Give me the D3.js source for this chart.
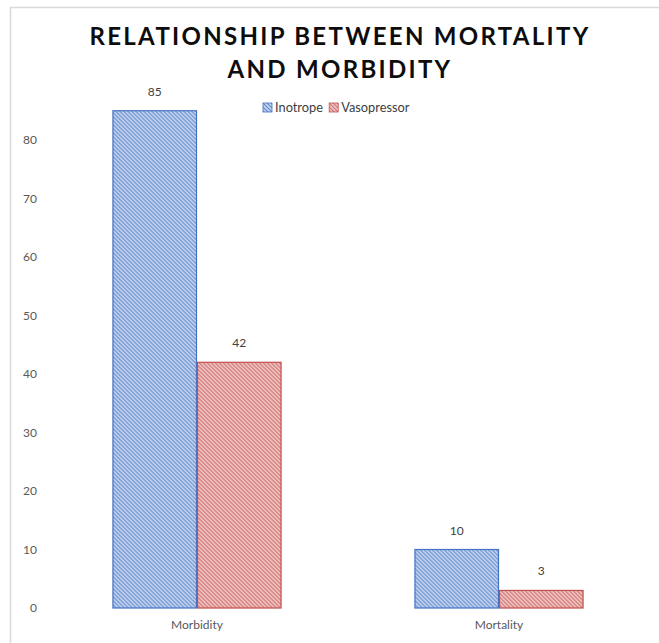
<!DOCTYPE html>
<html>
<head>
<meta charset="utf-8">
<script src="https://cdn.jsdelivr.net/npm/d3@7"></script>
<style>
  html, body { margin: 0; padding: 0; background: #fff; }
  svg { display: block; }
</style>
</head>
<body>
<svg id="chart" width="659" height="643"></svg>
<script>
// Chart data
const categories = ["Morbidity", "Mortality"];
const seriesNames = ["Inotrope", "Vasopressor"];
const inotropeValues = [85, 10];
const vasopressorValues = [42, 3];
const yTicks = [0, 10, 20, 30, 40, 50, 60, 70, 80];
const titleLines = ["RELATIONSHIP BETWEEN MORTALITY", "AND MORBIDITY"];

const seriesValues = [inotropeValues, vasopressorValues];
const seriesColors = ["#4472c4", "#c0504d"];
const seriesLight = ["#c9d6ef", "#f2c9c8"];

const W = 659, H = 643;
const svg = d3.select("#chart");
const font = "Lato, 'Open Sans', sans-serif";

// Outer frame of the chart area
svg.append("path")
  .attr("d", `M10.5,${H} V7.5 H${W}`)
  .attr("fill", "none")
  .attr("stroke", "#d9d9d9")
  .attr("stroke-width", 1.5);

// Diagonal hatch patterns, one per series
const defs = svg.append("defs");
seriesNames.forEach((name, i) => {
  const p = defs.append("pattern")
    .attr("id", "hatch" + i)
    .attr("patternUnits", "userSpaceOnUse")
    .attr("width", 4).attr("height", 4);
  p.append("rect").attr("width", 4).attr("height", 4).attr("fill", seriesLight[i]);
  p.append("path")
    .attr("d", "M-1,-1 L5,5 M-1,3 L1,5 M3,-1 L5,1")
    .attr("stroke", seriesColors[i])
    .attr("stroke-width", 1.1)
    .attr("opacity", 0.8);
});

// Scales
const x0 = d3.scaleBand().domain(categories).range([46, 650]).paddingInner(0.44).paddingOuter(0.22);
const x1 = d3.scaleBand().domain(seriesNames).range([0, x0.bandwidth()]);
const y = d3.scaleLinear().domain([0, 80]).range([608, 140]);

// Title
svg.append("g").selectAll("text")
  .data(titleLines)
  .join("text")
  .attr("x", 340)
  .attr("y", (d, i) => 45 + i * 33)
  .attr("text-anchor", "middle")
  .attr("font-family", font)
  .attr("font-weight", 700)
  .attr("font-size", 24)
  .attr("letter-spacing", 2.3)
  .attr("fill", "#0d0d0d")
  .text(d => d);

// Legend
const legend = svg.append("g").attr("transform", "translate(263,103)");
const legendItems = legend.selectAll("g")
  .data(seriesNames)
  .join("g");
legendItems.append("rect")
  .attr("width", 9).attr("height", 9)
  .attr("fill", (d, i) => `url(#hatch${i})`)
  .attr("stroke", (d, i) => seriesColors[i])
  .attr("stroke-width", 0.8);
legendItems.append("text")
  .attr("x", 12).attr("y", 9)
  .attr("font-family", font)
  .attr("font-size", 12.8)
  .attr("fill", "#404040")
  .text(d => d);
let lx = 0;
legendItems.each(function() {
  d3.select(this).attr("transform", `translate(${lx},0)`);
  lx += this.getBBox().width + 6;
});

// Y axis (labels only)
const yAxis = d3.axisLeft(y).tickValues(yTicks).tickSize(0).tickPadding(0);
const yg = svg.append("g").attr("transform", "translate(37,0)").call(yAxis);
yg.select(".domain").remove();
yg.selectAll("text")
  .attr("font-family", font)
  .attr("font-size", 12)
  .attr("fill", "#595959");

// X axis (labels only)
const xAxis = d3.axisBottom(x0).tickSize(0).tickPadding(0);
const xg = svg.append("g").attr("transform", "translate(0,620)").call(xAxis);
xg.select(".domain").remove();
xg.selectAll("text")
  .attr("font-family", font)
  .attr("font-size", 12)
  .attr("fill", "#595959");

// Bars
const rows = categories.map((c, ci) => ({
  category: c,
  values: seriesNames.map((s, si) => ({ series: s, si, value: seriesValues[si][ci] }))
}));

const groups = svg.append("g").selectAll("g")
  .data(rows)
  .join("g")
  .attr("transform", d => `translate(${x0(d.category)},0)`);

groups.selectAll("rect")
  .data(d => d.values)
  .join("rect")
  .attr("x", d => x1(d.series) + 0.5)
  .attr("y", d => y(d.value))
  .attr("width", x1.bandwidth() - 1)
  .attr("height", d => y(0) - y(d.value))
  .attr("fill", d => `url(#hatch${d.si})`)
  .attr("stroke", d => seriesColors[d.si])
  .attr("stroke-width", 1.2);

// Value labels
groups.selectAll("text")
  .data(d => d.values)
  .join("text")
  .attr("x", d => x1(d.series) + x1.bandwidth() / 2)
  .attr("y", d => y(d.value) - 15)
  .attr("text-anchor", "middle")
  .attr("font-family", font)
  .attr("font-size", 12)
  .attr("fill", "#404040")
  .text(d => d.value);
</script>
</body>
</html>
